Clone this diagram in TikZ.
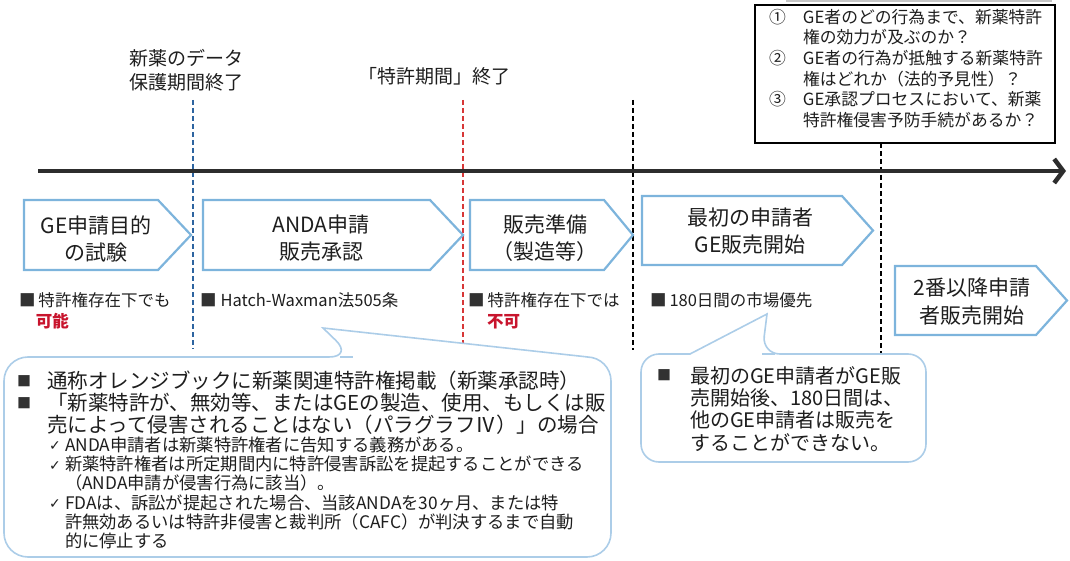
\documentclass[tikz,border=0pt]{standalone}
\usepackage{fontspec}
\setmainfont{Noto Sans CJK JP}
\newfontfamily\dv{DejaVu Sans}
\usetikzlibrary{arrows.meta}
\definecolor{chevc}{RGB}{125,180,220}
\definecolor{callc}{RGB}{172,205,232}
\definecolor{txtc}{RGB}{30,30,30}
\definecolor{redt}{RGB}{200,20,45}
\definecolor{bluedash}{RGB}{45,100,160}
\definecolor{reddash}{RGB}{215,55,55}
\definecolor{axisc}{RGB}{45,45,45}
\definecolor{sqc}{RGB}{50,50,50}
\newcommand{\sqs}{{\color{sqc}■}}
\newcommand{\sqb}{\raisebox{2.5pt}{\fontsize{14}{14}\selectfont\color{sqc}■}}
\newcommand{\ck}{\raisebox{0.5pt}{\dv\fontsize{14}{14}\selectfont ✓}}
\newcommand{\chevron}[5]{\draw[chev] (#1,#4) -- (#2,#4) -- (#3,{(#4+#5)/2}) -- (#2,#5) -- (#1,#5) -- cycle;}
\begin{document}
\begin{tikzpicture}[x=1pt,y=-1pt,
  txt/.style={inner sep=0pt, outer sep=0pt, align=left, text=txtc},
  ctxt/.style={inner sep=0pt, outer sep=0pt, align=center, text=txtc, font=\fontsize{21}{27}\selectfont},
  chev/.style={draw=chevc, line width=2.2pt, fill=white, line join=miter},
  callout/.style={draw=callc, line width=1.6pt, fill=white},
  vdash/.style={line width=1.2pt, dash pattern=on 5pt off 3pt}]
\useasboundingbox (0,0) rectangle (1070,561);

% faint line at top
\draw[gray!45, line width=2pt] (786,1) -- (1052,1);

% vertical dashed markers
\coordinate (b1) at (193,100); \coordinate (b2) at (193,349);
\coordinate (r1) at (463,100); \coordinate (r2) at (463,345);
\coordinate (k1) at (633,100); \coordinate (k2) at (633,350);
\coordinate (m1) at (881,143); \coordinate (m2) at (881,353);
\draw[vdash, bluedash] (b1) -- (b2);
\draw[vdash, reddash] (r1) -- (r2);
\draw[vdash, black] (k1) -- (k2);
\draw[vdash, black] (m1) -- (m2);

% timeline
\coordinate (t0) at (38,171);
\coordinate (t1) at (1066,171);
\draw[axisc, line width=4.5pt, -{Straight Barb[length=9pt,width=24pt]}] (t0) -- (t1);

% top labels
\node[txt, anchor=west, font=\fontsize{19}{24}\selectfont] (lab1) at (129,70.5) {新薬のデータ\\保護期間終了};
\node[txt, anchor=center, font=\fontsize{19}{24}\selectfont] (lab2) at (434,76) {「特許期間」終了};

% question box
\node[draw=black, line width=2.5pt, fill=white, minimum width=300pt, minimum height=138pt, inner sep=0pt] (qbox) at (905,74) {};
\node[txt, anchor=west, font=\fontsize{16.8}{20.6}\selectfont] (qtxt) at (769,68.5)
 {\makebox[34pt][l]{①}GE者のどの行為まで、新薬特許\\
  \hspace*{34pt}権の効力が及ぶのか？\\
  \makebox[34pt][l]{②}GE者の行為が抵触する新薬特許\\
  \hspace*{34pt}権はどれか（法的予見性）？\\
  \makebox[34pt][l]{③}GE承認プロセスにおいて、新薬\\
  \hspace*{34pt}特許権侵害予防手続があるか？};

% chevrons
\chevron{24}{158}{191}{200}{270}
\chevron{203}{430}{463}{200}{270}
\chevron{470}{604}{633}{200}{270}
\chevron{642}{842}{873}{196}{265}
\chevron{895}{1036}{1067}{266}{335}
\node[ctxt] (s1) at (96,238.5) {GE申請目的\\の試験};
\node[ctxt] (s2) at (321,238.5) {ANDA申請\\販売承認};
\node[ctxt] (s3) at (545,238.5) {販売準備\\（製造等）};
\node[ctxt] (s4) at (750,231.5) {最初の申請者\\GE販売開始};
\node[ctxt, font=\fontsize{21}{28}\selectfont] (s5) at (972,302) {2番以降申請\\者販売開始};

% bullets under the chevrons
\node[txt, anchor=west, font=\fontsize{16.5}{21}\selectfont] (n1) at (19,310.5) {\sqs\hspace{3pt}特許権存在下でも\\\hspace*{17pt}{\color{redt}\bfseries 可能}};
\node[txt, anchor=west, font=\fontsize{16.5}{21}\selectfont] (n2) at (200,300) {\sqs\hspace{4pt}Hatch-Waxman法505条};
\node[txt, anchor=west, font=\fontsize{16.5}{21}\selectfont] (n3) at (468,310.5) {\sqs\hspace{3pt}特許権存在下では\\\hspace*{19pt}{\color{redt}\bfseries 不可}};
\node[txt, anchor=west, font=\fontsize{16.5}{21}\selectfont] (n4) at (650,300) {\sqs\hspace{3pt}180日間の市場優先};

% callout 1
\draw[callout] (353,357) -- (323,328) -- (588,357)
  [rounded corners=24pt] -- (611,357) -- (611,557) -- (4,557) -- (4,357) -- cycle;
\draw[callc, line width=1.6pt] (340,357) -- (353,357);
\node[txt, anchor=west, font=\fontsize{20.5}{22}\selectfont] (c1a) at (17,403)
 {\makebox[30pt][l]{\sqb}通称オレンジブックに新薬関連特許権掲載（新薬承認時）\\
  \makebox[30pt][l]{\sqb}「新薬特許が、無効等、またはGEの製造、使用、もしくは販\\
  \hspace*{30pt}売によって侵害されることはない（パラグラフⅣ）」の場合};
\node[txt, anchor=west, font=\fontsize{17.3}{19.3}\selectfont] (c1b) at (49,493)
 {\makebox[16pt][l]{\ck}ANDA申請者は新薬特許権者に告知する義務がある。\\
  \makebox[16pt][l]{\ck}新薬特許権者は所定期間内に特許侵害訴訟を提起することができる\\
  \hspace*{16pt}（ANDA申請が侵害行為に該当）。\\
  \makebox[16pt][l]{\ck}FDAは、訴訟が提起された場合、当該ANDAを30ヶ月、または特\\
  \hspace*{16pt}許無効あるいは特許非侵害と裁判所（CAFC）が判決するまで自動\\
  \hspace*{16pt}的に停止する};

% callout 2
\draw[callout] (762,354) -- (767,314) -- (690,354)
  [rounded corners=18pt] -- (641,354) -- (641,462) -- (926,462) -- (926,354) -- cycle;
\draw[callc, line width=1.6pt] (762,354) -- (775,354);
\node[txt, anchor=west, font=\fontsize{20}{22.3}\selectfont] (c2) at (657,408.7)
 {\makebox[33pt][l]{\sqb}最初のGE申請者がGE販\\
  \hspace*{33pt}売開始後、180日間は、\\
  \hspace*{33pt}他のGE申請者は販売を\\
  \hspace*{33pt}することができない。};
\end{tikzpicture}
\end{document}
